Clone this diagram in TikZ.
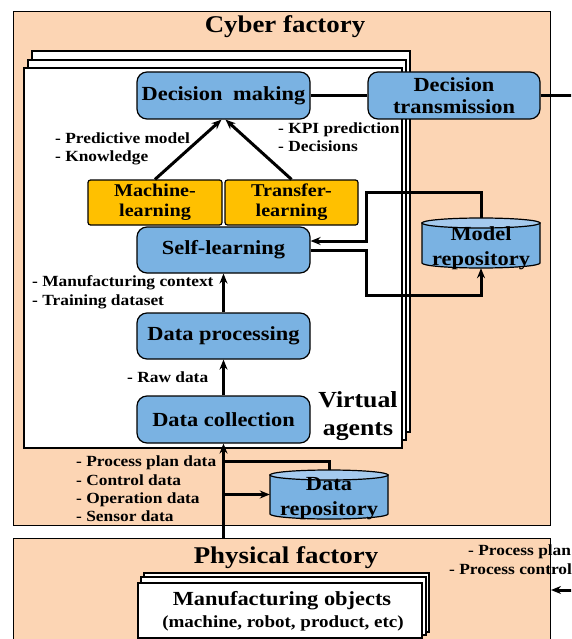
\documentclass[tikz,border=0pt]{standalone}
\usepackage{fontspec}
\setmainfont{Liberation Serif}[FakeStretch=1.12]
\usetikzlibrary{arrows.meta,calc}
\definecolor{peach}{RGB}{252,213,180}
\definecolor{boxblue}{RGB}{122,178,226}
\definecolor{topblue}{RGB}{165,202,238}
\definecolor{gold}{RGB}{255,192,0}
\newcommand\fs[2]{\fontsize{#1}{#2}\selectfont\bfseries}
\begin{document}
\begin{tikzpicture}[x=1pt,y=-1pt,
  frame/.style={draw=black,line width=1pt,fill=peach},
  page/.style={draw=black,line width=1.2pt,fill=white},
  bluebox/.style={draw=black,line width=1.2pt,fill=boxblue,rounded corners=10pt,inner sep=0pt,align=center,font=\fs{20}{22}},
  goldbox/.style={draw=black,line width=1.2pt,fill=gold,rounded corners=2.5pt,inner sep=0pt,align=center,font=\fs{18}{20}},
  repo/.style={inner sep=0pt,align=center,font=\fs{20}{25}},
  cylbody/.style={draw=black,line width=1.2pt,fill=boxblue},
  cyltop/.style={draw=black,line width=1.2pt,fill=topblue},
  lbl/.style={anchor=base west,inner sep=0pt,font=\fs{15.5}{18}},
  conn/.style={line width=3pt},
  arr/.style={conn,-{Stealth[length=10pt,width=8pt]}},
  title/.style={anchor=base,inner sep=0pt,font=\fs{24}{28}}
]
\useasboundingbox (0,0) rectangle (571,639);
\clip (0,0) rectangle (571,639);
\fill[white] (0,0) rectangle (571,639);

% Cyber factory
\draw[frame] (13,12) rectangle (550,525);
\node[title] (cyt) at (285,32.5) {Cyber factory};

% virtual agent pages
\draw[page] (32,51) rectangle (410,432);
\draw[page] (28,60) rectangle (406,440);
\draw[page] (24,68) rectangle (402,448);
\node[inner sep=0pt,align=center,font=\fs{23}{28}] (va) at (358,416) {Virtual\\agents};

% boxes
\node[bluebox,minimum width=173,minimum height=47] (dm) at (223.5,95.5) {Decision\hspace{5pt} making};
\node[bluebox,minimum width=172,minimum height=47] (dt) at (454,95.5) {Decision\\transmission};
\node[goldbox,minimum width=134,minimum height=45] (ml) at (155,202.5) {Machine-\\learning};
\node[goldbox,minimum width=133,minimum height=45] (tl) at (291.5,202.5) {Transfer-\\learning};
\node[bluebox,minimum width=173,minimum height=46] (sl) at (223.5,250) {Self-learning};
\node[bluebox,minimum width=173,minimum height=46] (dp) at (223.5,336) {Data processing};
\node[bluebox,minimum width=173,minimum height=47] (dc) at (223.5,419.5) {Data collection};

% model repository cylinder
\path[cylbody] (422,223) -- (422,263) arc[start angle=180,end angle=360,x radius=59pt,y radius=5pt] -- (540,223) -- cycle;
\draw[cyltop] (481,223) ellipse[x radius=59pt,y radius=5pt];
\node[repo,minimum width=118,minimum height=50] (mr) at (481,243) {};
\node[repo] (mrt) at (481,248) {Model\\repository};

% data repository cylinder
\path[cylbody] (270,475) -- (270,514) arc[start angle=180,end angle=360,x radius=59pt,y radius=5pt] -- (388,475) -- cycle;
\draw[cyltop] (329,475) ellipse[x radius=59pt,y radius=5pt];
\node[repo,minimum width=118,minimum height=49] (dr) at (329,494.5) {};
\node[repo] (drt) at (329,499) {Data\\repository};

% Physical factory
\node[frame,anchor=north west,minimum width=537,minimum height=150,inner sep=0pt] (phys) at (13,538) {};
\node[title] (pht) at (286,563.3) {Physical factory};
\draw[page] (144,573) rectangle (429,632);
\draw[page] (141,577) rectangle (426,635);
\node[page,minimum width=284,minimum height=55,inner sep=0pt] (mo) at (280,610.5) {};
\node[inner sep=0pt,font=\fs{20}{23}] (mo1) at (282,601) {Manufacturing objects};
\node[inner sep=0pt,font=\fs{17}{20}] (mo2) at (283,623) {(machine, robot, product, etc)};

% connectors
\coordinate (dtout) at (580,95.5);
\coordinate (c1) at (366,192);
\coordinate (c2) at (366,295);
\coordinate (b1) at (224,461);
\coordinate (pin) at (580,590);
\draw[conn] (dm.east) -- (dt.west);
\draw[conn] (dt.east) -- (dtout);
\draw[arr] (ml.north) -- ($(dm.south)+(-2,0)$);
\draw[arr] (tl.north) -- ($(dm.south)+(2,0)$);
\draw[arr] (mr.north) |- (c1) |- ([yshift=9pt]sl.east);
\draw[arr] (sl.east) -| (c2) -| (mr.south);
\draw[arr] (dp.north) -- (sl.south);
\draw[arr] (dc.north) -- (dp.south);
\draw[arr] (dc.south |- phys.north) -- (dc.south);
\draw[conn] (b1) -| (dr.north);
\draw[arr] (dr.west -| dc.south) -- (dr.west);
\draw[arr] (pin) -- (phys.east |- pin);

% labels
\node[lbl] (l1) at (55,144) {- Predictive model};
\node[lbl] (l2) at (55,161.5) {- Knowledge};
\node[lbl] (l3) at (278,134) {- KPI prediction};
\node[lbl] (l4) at (278,151.7) {- Decisions};
\node[lbl] (l5) at (32,286.7) {- Manufacturing context};
\node[lbl] (l6) at (32,305) {- Training dataset};
\node[lbl] (l7) at (127,382) {- Raw data};
\node[lbl] (l8) at (76,466.7) {- Process plan data};
\node[lbl] (l9) at (76,485) {- Control data};
\node[lbl] (l10) at (76,503) {- Operation data};
\node[lbl] (l11) at (76,521.7) {- Sensor data};
\node[lbl] (l12) at (468,555.7) {- Process plan};
\node[lbl] (l13) at (449,574) {- Process control};
\end{tikzpicture}
\end{document}
